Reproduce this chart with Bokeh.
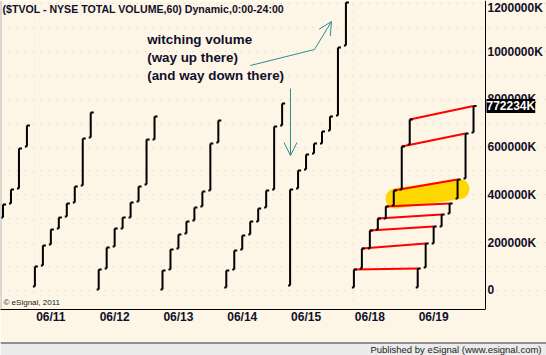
import numpy as np
from bokeh.plotting import figure
from bokeh.models import (FixedTicker, Range1d, Label, Span, Arrow, OpenHead,
                          ColumnDataSource)
from bokeh.layouts import column
from bokeh.embed import file_html
from bokeh.resources import INLINE
from bokeh.core.properties import value

# ---------------- data (cumulative NYSE volume, thousands, hourly bars) ----------------
day_names = ["06/10", "06/11", "06/12", "06/13", "06/14", "06/15", "06/18", "06/19"]
bars_per_day = 8
first_visible_bar = 4          # only the last 4 hourly bars of 06/10 are on the chart

low_0610 = [305000, 364000, 426800, 602500]
high_0610 = [359800, 422600, 594100, 690400]
low_0611 = [16700, 104600, 192500, 259400, 309600, 368200, 439300, 640200]
high_0611 = [100400, 188300, 255200, 305400, 364000, 435100, 636000, 744800]
low_0612 = [4200, 92000, 184100, 259400, 305400, 372400, 443500, 631800]
high_0612 = [87900, 179900, 259400, 305400, 368200, 435100, 631800, 728000]
low_0613 = [4200, 87900, 175700, 238500, 292900, 351500, 418400, 619200]
high_0613 = [83700, 171500, 234300, 288700, 347300, 414200, 615100, 711300]
low_0614 = [12600, 87900, 171500, 234300, 288700, 347300, 422600, 690400]
high_0614 = [83700, 167400, 230100, 288700, 343100, 418400, 686200, 782400]
low_0615 = [20900, 426800, 506300, 573200, 615100, 669500, 732200, 1025100]
high_0615 = [422600, 502100, 569000, 615100, 665300, 728000, 1016700, 1205000]
low_0618 = [12600, 92000, 175700, 255200, 301300, 355600, 422600, 610900]
high_0618 = [87900, 175700, 251000, 301300, 351500, 418400, 602500, 715500]
low_0619 = [12600, 96200, 196700, 267800, 322200, 384900, 468600, 661100]
high_0619 = [92000, 196700, 267800, 318000, 364000, 464400, 656900, 772234]

last_value = 772234
date_labels = ["06/11", "06/12", "06/13", "06/14", "06/15", "06/18", "06/19"]
y_ticks = [0, 200000, 400000, 600000, 800000, 1000000]
y_top_tick = 1200000
week_starts = ["06/11", "06/18"]

# annotation geometry (bar index, value)
note_text = "witching volume\n(way up there)\n(and way down there)"
note_x, note_y = 22.08, 1080000
up_path_x = [35.03, 43.06]
up_path_y = [941400, 1008400]
up_tip = (45.19, 1125500)
down_start = (40.05, 845200)
down_tip = (40.05, 564900)
highlight_x = [53.22, 61.24]
highlight_y = [384900, 424700]

# ---------------- build bar table ----------------
lows_by_day = [low_0610, low_0611, low_0612, low_0613, low_0614, low_0615, low_0618, low_0619]
highs_by_day = [high_0610, high_0611, high_0612, high_0613, high_0614, high_0615, high_0618, high_0619]
xs, lo, hi = [], [], []
for d, (l, h) in enumerate(zip(lows_by_day, highs_by_day)):
    start = first_visible_bar if d == 0 else 0
    for j, (a, b) in enumerate(zip(l, h)):
        xs.append(d * bars_per_day + start + j)
        lo.append(a)
        hi.append(b)
bars = ColumnDataSource(dict(x=xs, lo=lo, hi=hi))

i18 = day_names.index("06/18") * bars_per_day
i19 = day_names.index("06/19") * bars_per_day
cmp_src = ColumnDataSource(dict(
    x0=[i18 + k for k in range(bars_per_day)], y0=high_0618,
    x1=[i19 + k for k in range(bars_per_day)], y1=high_0619))

# ---------------- figure ----------------
BG = "#FDF5E6"
INK = "#10102a"
TEAL = "#2b8f8f"
FONT = "Liberation Sans"

px_per_bar = 7.975
x_start = 3.6865
axis_x = x_start + 485 / px_per_bar          # price-axis position
x_end = x_start + 546 / px_per_bar
y_start, y_end = -79500, 1213390

p = figure(width=546, height=342, output_backend="svg", toolbar_location=None,
           x_range=Range1d(x_start, x_end), y_range=Range1d(y_start, y_end),
           x_axis_location="below", y_axis_location="right",
           min_border_left=0, min_border_right=0, min_border_top=0, min_border_bottom=33,
           background_fill_color=BG, border_fill_color=BG, outline_line_color=None)

# grids
p.xgrid.ticker = FixedTicker(ticks=[day_names.index(d) * bars_per_day for d in week_starts])
p.ygrid.ticker = FixedTicker(ticks=list(range(0, 1200001, 100000)))
p.ygrid.bounds = (x_start, axis_x)
for g in (p.xgrid, p.ygrid):
    g.grid_line_color = "#d6d0c4"
    g.grid_line_dash = "1 7"
    g.grid_line_width = 1

# x axis
label_pos = [day_names.index(d) * bars_per_day + 2 for d in date_labels]
p.xaxis.ticker = FixedTicker(ticks=label_pos)
p.xaxis.major_label_overrides = {pos: lab for pos, lab in zip(label_pos, date_labels)}
p.xaxis.bounds = (x_start, axis_x)

# y axis (right, drawn at the price-axis position)
p.yaxis.ticker = FixedTicker(ticks=y_ticks)
p.yaxis.major_label_overrides = {t: ("0" if t == 0 else f"{t}K") for t in y_ticks}
p.yaxis.fixed_location = axis_x

for ax in (p.xaxis, p.yaxis):
    ax.axis_line_color = "black"
    ax.axis_line_width = 1
    ax.major_tick_line_color = None
    ax.minor_tick_line_color = None
    ax.major_tick_out = 0
    ax.major_tick_in = 0
    ax.minor_tick_out = 0
    ax.minor_tick_in = 0
    ax.major_label_standoff = 2
    ax.major_label_text_font = FONT
    ax.major_label_text_font_style = "bold"
    ax.major_label_text_font_size = "12px"
    ax.major_label_text_color = INK
p.xaxis.major_label_standoff = 0

# left border
p.add_layout(Span(location=x_start, dimension="height", line_color="#b8b8b8", line_width=2))

# highlight, comparison lines, bars
p.line(x=highlight_x, y=highlight_y, line_width=20, line_cap="round", line_color="#FFD700")
p.segment(x0="x0", y0="y0", x1="x1", y1="y1", source=cmp_src, line_color="#ff0000", line_width=2)
p.segment(x0="x", y0="lo", x1="x", y1="hi", source=bars, line_color="black", line_width=2)
p.ray(x="x", y="hi", length=3, length_units="screen", angle=0, source=bars,
      line_color="black", line_width=2)
p.ray(x="x", y="lo", length=2, length_units="screen", angle=np.pi, source=bars,
      line_color="black", line_width=2)

# arrows
p.line(x=up_path_x, y=up_path_y, line_color=TEAL, line_width=1)
p.add_layout(Arrow(end=OpenHead(size=13, line_color=TEAL, line_width=1),
                   x_start=up_path_x[-1], y_start=up_path_y[-1], x_end=up_tip[0], y_end=up_tip[1],
                   line_color=TEAL, line_width=1))
p.add_layout(Arrow(end=OpenHead(size=13, line_color=TEAL, line_width=1),
                   x_start=down_start[0], y_start=down_start[1], x_end=down_tip[0], y_end=down_tip[1],
                   line_color=TEAL, line_width=1))

# annotation text
p.text(x=[note_x], y=[note_y], text=[note_text], text_font=value(FONT),
       text_font_style="bold", text_font_size="13.4px", text_color=INK,
       text_baseline="top", text_align="left", text_line_height=1.19)

# title inside plot
p.add_layout(Label(x=x_start, y=y_end, x_offset=2, y_offset=-2, text_baseline="top",
                   text="($TVOL - NYSE TOTAL VOLUME,60) Dynamic,0:00-24:00",
                   text_font=FONT, text_font_style="bold", text_font_size="10.6px",
                   text_color=INK))
# copyright
p.add_layout(Label(x=x_start, y=y_start, x_offset=3, y_offset=7, text_baseline="middle",
                   text="© eSignal, 2011", text_font=FONT, text_font_size="8px",
                   text_color="#222222"))
# top tick label (kept inside the canvas as in the original)
p.add_layout(Label(x=axis_x, y=y_top_tick, x_offset=2, y_offset=-4, text_baseline="middle",
                   text=f"{y_top_tick}K", text_font=FONT, text_font_style="bold",
                   text_font_size="12px", text_color=INK))
# last value marker
p.add_layout(Label(x=axis_x, y=last_value, x_offset=1, text_baseline="middle",
                   text=f"{last_value}K", text_font=FONT, text_font_style="bold",
                   text_font_size="12px", text_color="white",
                   background_fill_color="black", padding=0))

# ---------------- footer ----------------
f = figure(width=546, height=13, output_backend="svg", toolbar_location=None,
           x_range=Range1d(0, 546), y_range=Range1d(0, 13),
           x_axis_location=None, y_axis_location=None,
           min_border=0, min_border_left=0, min_border_right=0,
           min_border_top=0, min_border_bottom=0,
           background_fill_color="#ebebeb", border_fill_color="#ebebeb", outline_line_color=None)
f.grid.visible = False
f.add_layout(Span(location=13, dimension="width", line_color="#333333", line_width=2))
f.text(x=[541], y=[6], text=["Published by eSignal (www.esignal.com)"], text_font=value(FONT),
       text_font_size="9.5px", text_color="#222222", text_align="right", text_baseline="middle")

layout = column(p, f, spacing=0)
open("out.html", "w").write(file_html(layout, INLINE))
